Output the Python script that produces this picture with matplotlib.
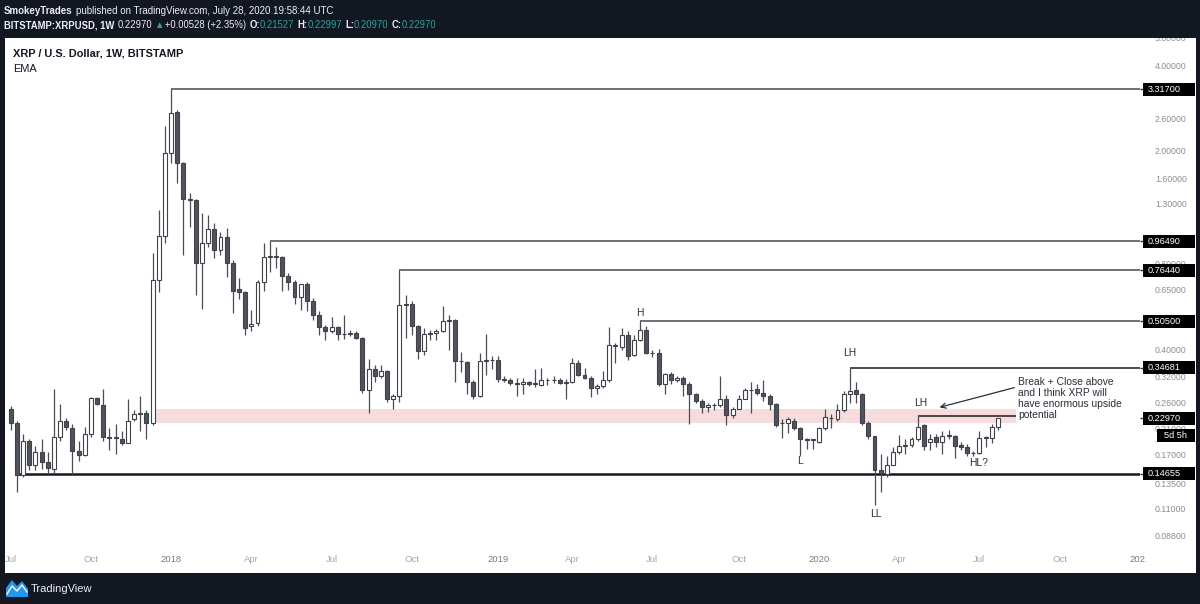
import numpy as np
import pandas as pd
import matplotlib
matplotlib.use("Agg")
import matplotlib.pyplot as plt
from matplotlib.patches import Rectangle, Polygon

# weekly XRP/USD candles, first bar = week of 2017-07-03
opens = [0.249, 0.222, 0.145, 0.192, 0.158, 0.1756, 0.161, 0.153, 0.197, 0.226,
         0.212, 0.177, 0.1714, 0.2034, 0.2707, 0.2558, 0.197, 0.196, 0.1953, 0.189,
         0.228, 0.239, 0.2411, 0.2206, 0.706, 1.008, 1.976, 2.757, 1.822, 1.361,
         1.345, 0.81, 0.953, 1.067, 0.90, 1.0, 0.81, 0.655, 0.64, 0.485,
         0.50, 0.693, 0.849, 0.855, 0.85, 0.729, 0.693, 0.614, 0.681, 0.594,
         0.53, 0.481, 0.466, 0.481, 0.455, 0.456, 0.459, 0.441, 0.289, 0.342,
         0.323, 0.338, 0.268, 0.276, 0.575, 0.579, 0.485, 0.397, 0.455, 0.459,
         0.466, 0.505, 0.509, 0.367, 0.363, 0.31, 0.275, 0.367, 0.37, 0.37,
         0.317, 0.315, 0.307, 0.303, 0.31, 0.303, 0.302, 0.313, 0.313, 0.315,
         0.307, 0.31, 0.36, 0.328, 0.32, 0.293, 0.30, 0.313, 0.417, 0.41,
         0.451, 0.385, 0.435, 0.47, 0.39, 0.392, 0.305, 0.33, 0.313, 0.32,
         0.305, 0.28, 0.265, 0.252, 0.256, 0.256, 0.268, 0.237, 0.249, 0.27,
         0.289, 0.292, 0.283, 0.275, 0.258, 0.2206, 0.222, 0.226, 0.212, 0.194,
         0.193, 0.19, 0.212, 0.23, 0.228, 0.247, 0.28, 0.289, 0.28, 0.222,
         0.199, 0.151, 0.146, 0.158, 0.1756, 0.184, 0.186, 0.194, 0.218, 0.19,
         0.197, 0.19, 0.20, 0.20, 0.186, 0.182, 0.173, 0.173, 0.196, 0.196,
         0.21527]
highs = [0.255, 0.225, 0.203, 0.195, 0.184, 0.195, 0.1756, 0.291, 0.258, 0.230,
         0.219, 0.192, 0.215, 0.273, 0.273, 0.291, 0.212, 0.219, 0.207, 0.270,
         0.247, 0.275, 0.247, 0.879, 1.245, 2.46, 3.317, 2.80, 1.84, 1.429,
         1.365, 1.215, 1.194, 1.121, 1.041, 1.076, 0.83, 0.716, 0.645, 0.553,
         0.705, 0.95, 0.9649, 0.92, 0.855, 0.75, 0.705, 0.686, 0.693, 0.61,
         0.548, 0.49, 0.525, 0.485, 0.53, 0.47, 0.466, 0.445, 0.373, 0.353,
         0.353, 0.34, 0.28, 0.7644, 0.624, 0.594, 0.49, 0.478, 0.47, 0.474,
         0.57, 0.53, 0.515, 0.394, 0.365, 0.315, 0.39, 0.455, 0.38, 0.38,
         0.325, 0.32, 0.32, 0.32, 0.312, 0.342, 0.345, 0.32, 0.323, 0.32,
         0.317, 0.375, 0.37, 0.347, 0.325, 0.305, 0.337, 0.481, 0.425, 0.478,
         0.466, 0.451, 0.505, 0.485, 0.40, 0.402, 0.333, 0.335, 0.325, 0.325,
         0.31, 0.283, 0.27, 0.26, 0.26, 0.325, 0.278, 0.253, 0.278, 0.294,
         0.31, 0.305, 0.313, 0.28, 0.26, 0.228, 0.232, 0.23, 0.215, 0.196,
         0.195, 0.215, 0.249, 0.239, 0.258, 0.287, 0.34681, 0.31, 0.283, 0.226,
         0.20, 0.172, 0.17, 0.182, 0.201, 0.195, 0.197, 0.2337, 0.22, 0.2034,
         0.2034, 0.207, 0.21, 0.201, 0.19, 0.187, 0.177, 0.207, 0.20, 0.219,
         0.22997]
lows = [0.210, 0.127, 0.143, 0.151, 0.151, 0.153, 0.1466, 0.148, 0.192, 0.210,
        0.1466, 0.163, 0.170, 0.197, 0.2558, 0.192, 0.178, 0.172, 0.186, 0.188,
        0.226, 0.207, 0.1953, 0.218, 0.641, 0.953, 1.822, 1.55, 0.865, 1.085,
        0.625, 0.558, 0.922, 0.844, 0.865, 0.724, 0.54, 0.605, 0.452, 0.466,
        0.485, 0.645, 0.752, 0.78, 0.645, 0.65, 0.579, 0.553, 0.548, 0.509,
        0.451, 0.435, 0.459, 0.435, 0.438, 0.448, 0.438, 0.283, 0.2411, 0.308,
        0.318, 0.262, 0.249, 0.262, 0.44, 0.451, 0.373, 0.385, 0.435, 0.435,
        0.463, 0.40, 0.31, 0.334, 0.28, 0.27, 0.273, 0.326, 0.342, 0.31,
        0.31, 0.302, 0.275, 0.28, 0.298, 0.296, 0.30, 0.302, 0.307, 0.305,
        0.268, 0.307, 0.325, 0.317, 0.273, 0.28, 0.293, 0.31, 0.36, 0.40,
        0.37, 0.38, 0.43, 0.388, 0.377, 0.30, 0.28, 0.305, 0.31, 0.275,
        0.22, 0.26, 0.241, 0.243, 0.246, 0.253, 0.218, 0.23, 0.249, 0.268,
        0.241, 0.278, 0.265, 0.247, 0.2136, 0.196, 0.205, 0.21, 0.17, 0.18,
        0.18, 0.189, 0.21, 0.212, 0.226, 0.243, 0.26, 0.26, 0.218, 0.195,
        0.114, 0.127, 0.143, 0.157, 0.172, 0.172, 0.183, 0.192, 0.178, 0.178,
        0.183, 0.172, 0.194, 0.167, 0.178, 0.17, 0.17, 0.172, 0.182, 0.189,
        0.2097]
closes = [0.222, 0.145, 0.192, 0.158, 0.1756, 0.161, 0.154, 0.197, 0.226, 0.2136,
          0.177, 0.1714, 0.2034, 0.2707, 0.258, 0.197, 0.196, 0.197, 0.189, 0.226,
          0.239, 0.2411, 0.2206, 0.706, 1.008, 1.976, 2.733, 1.822, 1.361, 1.345,
          0.81, 0.953, 1.067, 0.90, 1.0, 0.81, 0.646, 0.64, 0.479, 0.494,
          0.695, 0.851, 0.855, 0.85, 0.729, 0.693, 0.614, 0.681, 0.594, 0.53,
          0.481, 0.466, 0.481, 0.455, 0.456, 0.459, 0.441, 0.289, 0.342, 0.323,
          0.338, 0.268, 0.276, 0.575, 0.579, 0.485, 0.397, 0.455, 0.459, 0.466,
          0.505, 0.509, 0.367, 0.367, 0.31, 0.275, 0.367, 0.37, 0.37, 0.317,
          0.315, 0.307, 0.305, 0.31, 0.305, 0.307, 0.313, 0.313, 0.315, 0.307,
          0.31, 0.36, 0.328, 0.32, 0.295, 0.30, 0.313, 0.417, 0.414, 0.451,
          0.38, 0.435, 0.47, 0.39, 0.392, 0.305, 0.33, 0.315, 0.32, 0.305,
          0.28, 0.265, 0.252, 0.256, 0.256, 0.268, 0.237, 0.249, 0.27, 0.289,
          0.29, 0.283, 0.275, 0.258, 0.218, 0.222, 0.228, 0.212, 0.194, 0.193,
          0.194, 0.212, 0.232, 0.231, 0.247, 0.28, 0.287, 0.28, 0.222, 0.199,
          0.151, 0.148, 0.158, 0.1756, 0.184, 0.186, 0.194, 0.215, 0.184, 0.195,
          0.19, 0.199, 0.201, 0.184, 0.183, 0.1732, 0.1735, 0.196, 0.197, 0.215,
          0.2297]

first_week = "2017-07-03"

# horizontal levels: price, first bar, last bar (None = to the price scale)
level_prices = [3.317, 0.9649, 0.7644, 0.505, 0.34681, 0.14655, 0.2337]
level_starts = [26, 42, 63, 102, 136, 1, 147]
level_ends = [None, None, None, None, None, None, 163]
level_styles = ["grey", "grey", "grey", "grey", "dark", "thick", "dark"]

axis_label_prices = [3.317, 0.9649, 0.7644, 0.505, 0.34681, 0.2297, 0.14655]
axis_label_texts = ["3.31700", "0.96490", "0.76440", "0.50500", "0.34681", "0.22970", "0.14655"]
countdown_text = "5d 5h"

price_ticks = [5.0, 4.0, 2.6, 2.0, 1.6, 1.3, 0.8, 0.65, 0.4,
               0.32, 0.26, 0.21, 0.17, 0.135, 0.11, 0.088]

time_labels = ["Jul", "Oct", "2018", "Apr", "Jul", "Oct", "2019", "Apr", "Jul",
               "Oct", "2020", "Apr", "Jul", "Oct", "2021"]
time_starts = ["2017-07-01", "2017-10-01", "2018-01-01", "2018-04-01", "2018-07-01",
               "2018-10-01", "2019-01-01", "2019-04-01", "2019-07-01", "2019-10-01",
               "2020-01-01", "2020-04-01", "2020-07-01", "2020-10-01", "2021-01-01"]

zone_low, zone_high = 0.2215, 0.248
zone_start, zone_end = 23, 163

swing_labels = ["H", "LH", "L", "LH", "LL", "HL?"]
swing_bars = [102, 136, 128, 147.5, 140.2, 156.8]
swing_prices = [0.54, 0.391, 0.163, 0.2605, 0.106, 0.160]

note_text = "Break + Close above\nand I think XRP will\nhave enormous upside\npotential"

FONT = ["Liberation Sans", "DejaVu Sans"]
BG = "#131722"
TEAL = "#26a69a"
W, H = 1200, 604

fig = plt.figure(figsize=(12, 6.04), dpi=100)
fig.patch.set_facecolor(BG)


def fx(px):
    return px / W


def fy(py):
    return 1 - py / H


fig.add_artist(Rectangle((fx(5), fy(573)), fx(1196) - fx(5), fy(38) - fy(573),
                         transform=fig.transFigure, facecolor="white", edgecolor="none", zorder=0))

ymin, ymax = 0.0804, 5.02
ax = fig.add_axes([fx(5), fy(548), fx(1140) - fx(5), fy(38) - fy(548)])
ax.set_facecolor("none")
ax.set_yscale("log")
ax.set_ylim(ymin, ymax)
ax.set_xlim(-0.924, 183.03)
ax.set_axis_off()

o = np.array(opens)
h = np.array(highs)
l = np.array(lows)
c = np.array(closes)
idx = np.arange(len(o))
up = c >= o
edge = "#3f4249"
ax.vlines(idx, l, h, color="#4a4d55", lw=0.9, zorder=3)
ax.bar(idx[up], (c - o)[up], bottom=o[up], width=0.64, color="white",
       edgecolor=edge, lw=0.8, zorder=4)
ax.bar(idx[~up], (o - c)[~up], bottom=c[~up], width=0.64, color="#50535e",
       edgecolor=edge, lw=0.8, zorder=4)

# support/resistance zone
ax.add_patch(Rectangle((zone_start, zone_low), zone_end - zone_start, zone_high - zone_low,
                       facecolor="#f6dcdc", edgecolor="none", zorder=1))

style_map = {"grey": ("#55585f", 1.2), "dark": ("#1c1c1c", 1.1), "thick": ("#16181d", 1.8)}
xmax = ax.get_xlim()[1]
for p, s, e, st in zip(level_prices, level_starts, level_ends, level_styles):
    col, lw = style_map[st]
    ax.hlines(p, s, xmax if e is None else e, color=col, lw=lw, zorder=2)

for lab, xb, yp in zip(swing_labels, swing_bars, swing_prices):
    ax.text(xb, yp, lab, ha="center", va="center", fontsize=7.4, color="#2a2e39", family=FONT, zorder=6)

ax.text(163.3, 0.2704, note_text, ha="left", va="center", fontsize=7.4, color="#2a2e39",
        family=FONT, linespacing=1.12, zorder=6)
ax.annotate("", xy=(150.1, 0.25), xytext=(163.1, 0.2967),
            arrowprops=dict(arrowstyle="->", color="#2a2e39", lw=0.9, mutation_scale=9), zorder=6)

# price scale
pax = fig.add_axes([fx(1140), fy(548), fx(1196) - fx(1140), fy(38) - fy(548)])
pax.set_facecolor("none")
pax.set_yscale("log")
pax.set_ylim(ymin, ymax)
pax.set_xlim(0, 56)
pax.set_axis_off()
for v in price_ticks:
    pax.text(15, v, f"{v:.5f}", ha="left", va="center", fontsize=6.3, color="#8a8d96",
             family=FONT, clip_on=True, zorder=2)
bh = 10 ** (6.5 / 284.1)
for p, s in zip(axis_label_prices, axis_label_texts):
    pax.add_patch(Rectangle((3, p / bh), 52, p * bh - p / bh, facecolor="black",
                            edgecolor="none", zorder=5))
    pax.hlines(p, 0, 3, color="#333333", lw=1.0, zorder=5)
    pax.text(8, p, s, ha="left", va="center", fontsize=6.6, color="white", family=FONT, zorder=6)
cd = axis_label_prices[5] / bh ** 2.55
pax.add_patch(Rectangle((17, cd / bh), 38, cd * bh - cd / bh, facecolor="black",
                        edgecolor="none", zorder=5))
pax.text(36, cd, countdown_text, ha="center", va="center", fontsize=6.6, color="white",
         family=FONT, zorder=6)

# time scale
tax = fig.add_axes([fx(5), fy(572), fx(1146) - fx(5), fy(548) - fy(572)])
tax.set_facecolor("none")
tax.set_xlim(-0.924, 184.0)
tax.set_ylim(0, 1)
tax.set_axis_off()
weeks = pd.date_range(first_week, periods=200, freq="7D")
for lab, start in zip(time_labels, time_starts):
    pos = int(np.argmax(weeks >= pd.Timestamp(start)))
    is_year = lab.isdigit()
    tax.text(pos, 0.5, lab, ha="center", va="center", fontsize=6.8,
             color="#787b86" if is_year else "#a3a6ae", family=FONT, clip_on=True)

# header
renderer = fig.canvas.get_renderer()


def text_run(x, y, parts, size):
    for s, col, wt, gap in parts:
        t = fig.text(fx(x), fy(y), s, color=col, fontweight=wt, fontsize=size,
                     va="center", ha="left", family=FONT)
        x += t.get_window_extent(renderer).width + gap


WHITE = "#eceff4"
text_run(4, 11, [("SmokeyTrades", WHITE, "bold", 3),
                 ("published on TradingView.com, July 28, 2020 19:58:44 UTC", WHITE, "normal", 0)], 7.0)
text_run(4, 25, [("BITSTAMP:XRPUSD, 1W", WHITE, "bold", 3),
                 ("0.22970", WHITE, "normal", 2),
                 ("\u25b2", TEAL, "normal", 2),
                 ("+0.00528 (+2.35%)", WHITE, "normal", 3),
                 ("O:", WHITE, "bold", 0), ("0.21527", TEAL, "normal", 3),
                 ("H:", WHITE, "bold", 0), ("0.22997", TEAL, "normal", 3),
                 ("L:", WHITE, "bold", 0), ("0.20970", TEAL, "normal", 3),
                 ("C:", WHITE, "bold", 0), ("0.22970", TEAL, "normal", 0)], 6.85)

fig.text(fx(13), fy(54), "XRP / U.S. Dollar, 1W, BITSTAMP", fontsize=7.9, fontweight="bold",
         color="#131722", va="center", ha="left", family=FONT)
fig.text(fx(13), fy(69), "EMA", fontsize=7.9, color="#131722", va="center", ha="left", family=FONT)

# footer logo
logo = Polygon([(fx(6), fy(597)), (fx(6), fy(588)), (fx(12), fy(580)), (fx(17), fy(586)),
                (fx(22), fy(581)), (fx(28), fy(589)), (fx(28), fy(597))],
               closed=True, transform=fig.transFigure, facecolor="#2196f3", edgecolor="none")
fig.add_artist(logo)
fig.add_artist(plt.Line2D([fx(7), fx(12), fx(17), fx(22), fx(27)],
                          [fy(594), fy(586), fy(591), fy(585), fy(592)],
                          transform=fig.transFigure, color="white", lw=1.0))
fig.text(fx(31), fy(589), "TradingView", fontsize=8, color=WHITE, va="center", ha="left", family=FONT)

fig.savefig("out.png", dpi=100, facecolor=fig.get_facecolor())
